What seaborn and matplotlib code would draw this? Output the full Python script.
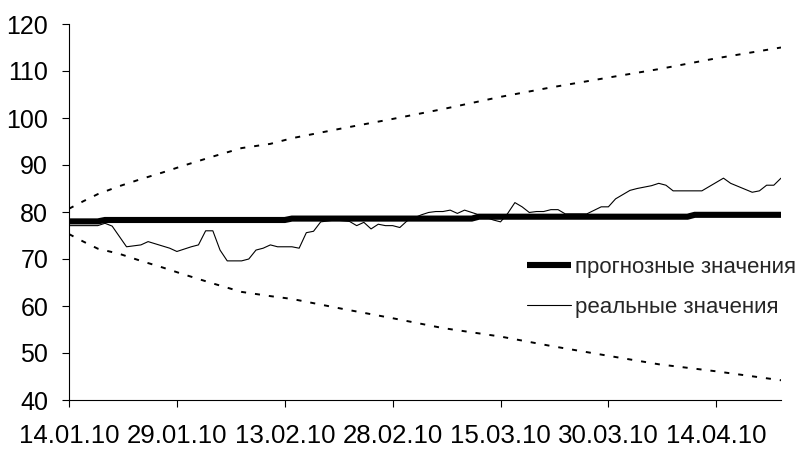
import pandas as pd
import matplotlib
matplotlib.use("Agg")
import matplotlib.pyplot as plt
import matplotlib.dates as mdates
import seaborn as sns

sns.set_style("white")
plt.rcParams["font.family"] = ["Liberation Sans", "DejaVu Sans"]

start = pd.Timestamp("2010-01-14")

# forecast (step-wise), days counted from 14.01.10
forecast_days = [0, 4, 5, 30, 31, 56, 57, 86, 87, 99]
forecast_vals = [78.0, 78.0, 78.3, 78.3, 78.6, 78.6, 79.0, 79.0, 79.4, 79.4]

# observed values
real_days = [0, 4, 5, 6, 8, 10, 11, 14, 15, 17, 18, 19, 20, 21, 22, 24, 25, 26,
             27, 28, 29, 31, 32, 33, 34, 35, 37, 39, 40, 41, 42, 43, 44, 45, 46,
             47, 49, 50, 51, 52, 53, 54, 55, 56, 57, 59, 60, 61, 62, 63, 64, 65,
             66, 67, 68, 69, 72, 74, 75, 76, 78, 79, 81, 82, 83, 84, 88, 91, 92,
             95, 96, 97, 98, 99]
real_vals = [77.1, 77.1, 77.6, 77.0, 72.6, 73.0, 73.7, 72.3, 71.6, 72.6, 73.0,
             76.0, 76.0, 71.9, 69.6, 69.6, 70.0, 71.9, 72.3, 73.0, 72.6, 72.6,
             72.3, 75.6, 75.9, 77.9, 78.3, 78.0, 77.1, 77.8, 76.4, 77.4, 77.1,
             77.1, 76.7, 78.1, 79.4, 79.9, 80.1, 80.1, 80.4, 79.7, 80.4, 79.9,
             79.4, 78.3, 77.9, 79.7, 82.0, 81.1, 79.9, 80.1, 80.1, 80.5, 80.5,
             79.6, 79.6, 81.1, 81.1, 82.8, 84.6, 85.0, 85.6, 86.1, 85.7, 84.5,
             84.5, 87.2, 86.1, 84.2, 84.5, 85.7, 85.7, 87.2]

# confidence bounds
band_days = [0, 2, 4, 7, 10, 13, 16, 20, 24, 28, 31, 38, 45, 52, 60, 67, 75, 82, 90, 99]
upper_vals = [80.7, 82.3, 83.8, 85.5, 87.0, 88.4, 89.9, 91.8, 93.6, 94.5, 95.7,
              97.8, 99.8, 101.9, 104.5, 106.5, 108.6, 110.4, 112.7, 115.0]
lower_vals = [75.3, 73.7, 72.2, 71.1, 69.6, 68.2, 66.7, 64.8, 63.0, 62.1, 61.5,
              59.4, 57.4, 55.3, 53.5, 51.5, 49.4, 47.6, 46.1, 44.2]

y_ticks = [40, 50, 60, 70, 80, 90, 100, 110, 120]
x_tick_days = [0, 15, 30, 45, 60, 75, 90]
legend_labels = ["прогнозные значения", "реальные значения"]


def to_dates(days):
    return [start + pd.Timedelta(days=d) for d in days]


fig = plt.figure(figsize=(8.03, 4.49), dpi=100)
ax = fig.add_axes([69 / 803, 1 - 400 / 449, (781 - 69) / 803, (400 - 24) / 449])

sns.lineplot(x=to_dates(forecast_days), y=forecast_vals, ax=ax, color="black",
             linewidth=4.4, solid_capstyle="butt", solid_joinstyle="miter")
sns.lineplot(x=to_dates(real_days), y=real_vals, ax=ax, color="black",
             linewidth=0.8)
dot = (0, (2.6, 4.6))
sns.lineplot(x=to_dates(band_days), y=upper_vals, ax=ax, color="black",
             linewidth=1.4, linestyle=dot)
sns.lineplot(x=to_dates(band_days), y=lower_vals, ax=ax, color="black",
             linewidth=1.4, linestyle=dot)

ax.set_xlim(start, start + pd.Timedelta(days=99))
ax.set_ylim(40, 120)
ax.set_yticks(y_ticks)
ax.set_xticks(to_dates(x_tick_days))
ax.xaxis.set_major_formatter(mdates.DateFormatter("%d.%m.%y"))
ax.set_xlabel("")
ax.set_ylabel("")

for side in ["top", "right"]:
    ax.spines[side].set_visible(False)
for side in ["left", "bottom"]:
    ax.spines[side].set_color("black")
    ax.spines[side].set_linewidth(0.8)

ax.tick_params(axis="both", direction="out", length=5, width=0.8,
               color="black", labelcolor="black", bottom=True, left=True)
ax.tick_params(axis="x", labelsize=18.6, pad=12)
ax.tick_params(axis="y", labelsize=18, pad=10)

handles = [plt.Line2D([], [], color="black", linewidth=4.4, solid_capstyle="butt"),
           plt.Line2D([], [], color="black", linewidth=0.8)]
fig.legend(handles, legend_labels, loc="center left",
           bbox_to_anchor=(527 / 803, 1 - 287.5 / 449), frameon=False,
           fontsize=16, handlelength=2.0, handletextpad=0.15,
           labelspacing=0.85, borderpad=0, borderaxespad=0)

fig.savefig("out.png", dpi=100)
